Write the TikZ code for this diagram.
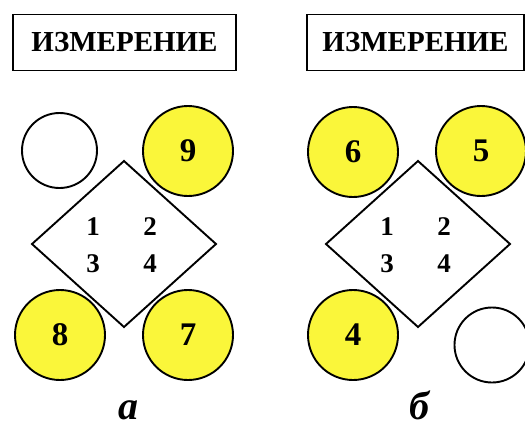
\documentclass[tikz,border=0pt]{standalone}
\usepackage{fontspec}
\setmainfont{Liberation Serif}
\definecolor{markyellow}{RGB}{250,246,58}
\tikzset{
  stone/.style={circle,draw,line width=1.9pt,inner sep=0pt,minimum size=90pt,
    font=\bfseries\fontsize{33}{33}\selectfont},
  lit/.style={stone,fill=markyellow},
  blank/.style={stone,minimum size=75pt},
  tagbox/.style={draw,line width=1.9pt,minimum height=56pt,inner sep=0pt,
    font=\bfseries\fontsize{29}{29}\selectfont},
  cell/.style={font=\bfseries\fontsize{27}{27}\selectfont},
  panel/.style={font=\bfseries\itshape\fontsize{40}{40}\selectfont,anchor=base,inner sep=0pt}
}

\begin{document}
\begin{tikzpicture}[x=1pt,y=-1pt,line join=miter]
  \useasboundingbox (0,0) rectangle (525,429);
  \clip (0,0) rectangle (525,429);
  % а: левая схема
  \node[tagbox,minimum width=223pt] (tagA) at (124.5,42.5) {ИЗМЕРЕНИЕ};
  \draw[line width=1.9pt] (124,161) -- (216,244) -- (124,327) -- (32,244) -- cycle;
  \node[cell] (a1) at (93,227) {1};
  \node[cell] (a2) at (150,227) {2};
  \node[cell] (a3) at (93,264) {3};
  \node[cell] (a4) at (150,264) {4};
  \node[blank] (aE) at (59.5,150.5) {};
  \node[lit] (a9) at (188,151) {9};
  \node[lit] (a8) at (60,335) {8};
  \node[lit] (a7) at (188,335) {7};
  \node[panel] (capA) at (128,419) {а};
  % б: правая схема
  \node[tagbox,minimum width=217pt] (tagB) at (415.5,42.5) {ИЗМЕРЕНИЕ};
  \draw[line width=1.9pt] (418,161) -- (510,244) -- (418,327) -- (326,244) -- cycle;
  \node[cell] (b1) at (387,227) {1};
  \node[cell] (b2) at (444,227) {2};
  \node[cell] (b3) at (387,264) {3};
  \node[cell] (b4) at (444,264) {4};
  \node[lit] (b6) at (353,152) {6};
  \node[lit] (b5) at (481,151) {5};
  \node[lit] (b4c) at (353,335) {4};
  \node[blank] (bE) at (492,345) {};
  \node[panel] (capB) at (419,419) {б};
\end{tikzpicture}
\end{document}
